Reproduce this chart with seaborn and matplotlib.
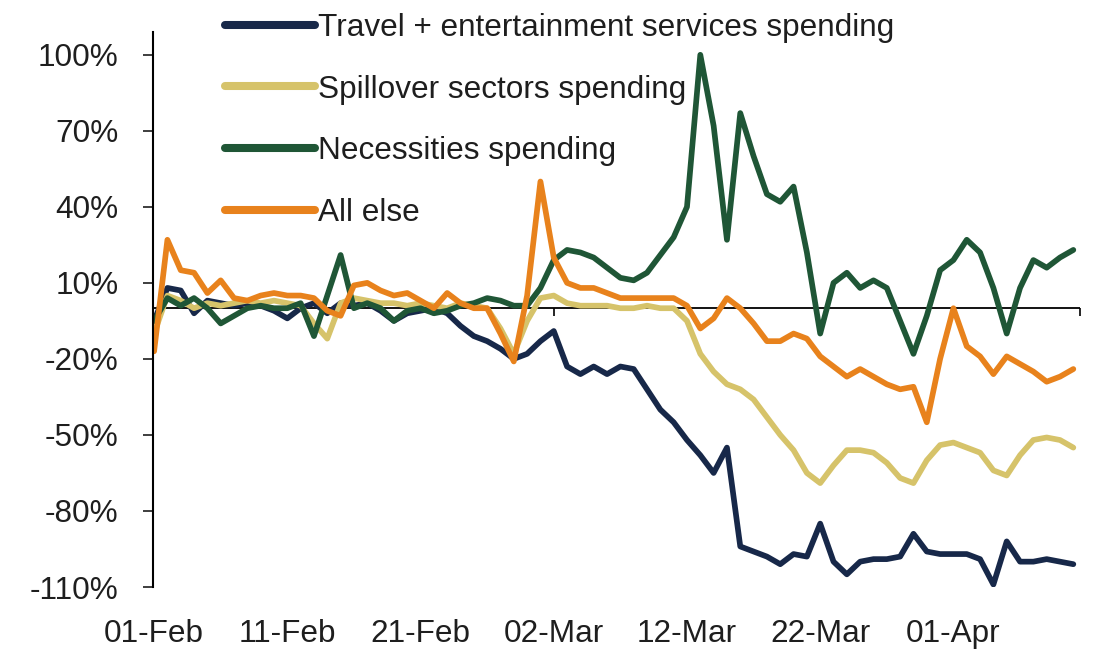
import numpy as np
import pandas as pd
import matplotlib
matplotlib.use("Agg")
import matplotlib.pyplot as plt
import seaborn as sns
from matplotlib.lines import Line2D

# ---------------- data ----------------
dates = pd.date_range("2020-02-01", periods=70, freq="D")

travel = [-5, 8, 7, -2, 3, 2, 1, 2, 1, -1,
          -4, 0, 2, -2, 2, 1, 2, -1, -5, -2,
          -1, 0, -2, -7, -11, -13, -16, -20, -18, -13,
          -9, -23, -26, -23, -26, -23, -24, -32, -40, -45,
          -52, -58, -65, -55, -94, -96, -98, -101, -97, -98,
          -85, -100, -105, -100, -99, -99, -98, -89, -96, -97,
          -97, -97, -99, -109, -92, -100, -100, -99, -100, -101]

spillover = [-10, 5, 3, 0, 2, 1, 2, 3, 2, 3,
             2, 1, -6, -12, 2, 4, 3, 2, 2, 1,
             2, 1, 0, 2, 1, 0, -8, -18, -5, 4,
             5, 2, 1, 1, 1, 0, 0, 1, 0, 0,
             -5, -18, -25, -30, -32, -36, -43, -50, -56, -65,
             -69, -62, -56, -56, -57, -61, -67, -69, -60, -54,
             -53, -55, -57, -64, -66, -58, -52, -51, -52, -55]

necessities = [-5, 4, 1, 4, 0, -6, -3, 0, 1, 0,
               0, 2, -11, 5, 21, 0, 2, 0, -5, -1,
               0, -2, -1, 1, 2, 4, 3, 1, 1, 8,
               19, 23, 22, 20, 16, 12, 11, 14, 21, 28,
               40, 100, 72, 27, 77, 60, 45, 42, 48, 22,
               -10, 10, 14, 8, 11, 8, -5, -18, -3, 15,
               19, 27, 22, 8, -10, 8, 19, 16, 20, 23]

all_else = [-17, 27, 15, 14, 6, 11, 4, 3, 5, 6,
            5, 5, 4, -1, -3, 9, 10, 7, 5, 6,
            3, 0, 6, 2, 0, 0, -10, -21, 5, 50,
            20, 10, 8, 8, 6, 4, 4, 4, 4, 4,
            1, -8, -4, 4, 0, -6, -13, -13, -10, -12,
            -19, -23, -27, -24, -27, -30, -32, -31, -45, -20,
            0, -15, -19, -26, -19, -22, -25, -29, -27, -24]

series_names = ["Travel + entertainment services spending",
                "Spillover sectors spending",
                "Necessities spending",
                "All else"]
series_values = [travel, spillover, necessities, all_else]
series_colors = ["#172849", "#d6c36a", "#1f5636", "#e8821c"]

y_ticks = [100, 70, 40, 10, -20, -50, -80, -110]
y_tick_labels = ["100%", "70%", "40%", "10%", "-20%", "-50%", "-80%", "-110%"]
x_tick_dates = ["2020-02-01", "2020-02-11", "2020-02-21", "2020-03-02",
                "2020-03-12", "2020-03-22", "2020-04-01"]
x_tick_labels = ["01-Feb", "11-Feb", "21-Feb", "02-Mar", "12-Mar", "22-Mar", "01-Apr"]
zero_line_ticks = ["2020-03-02T00:00", "2020-04-01T00:00", "2020-04-10T12:00"]

# ---------------- frame ----------------
df = pd.concat([pd.DataFrame({"date": dates, "value": v, "series": n})
                for n, v in zip(series_names, series_values)], ignore_index=True)

sns.set_theme(style="white")
plt.rcParams["font.family"] = ["Liberation Sans", "DejaVu Sans"]
text_color = "#1e1e1e"
fs = 22.7

fig = plt.figure(figsize=(10.99, 6.58), dpi=100)
ax = fig.add_axes([0.1392, 0.1079, 0.8435, 0.8435])

palette = dict(zip(series_names, series_colors))
sns.lineplot(data=df, x="date", y="value", hue="series", hue_order=series_names,
             palette=palette, linewidth=4.1, ax=ax, legend=False)

ax.set_ylim(-110, 109)
ax.set_xlim(pd.Timestamp("2020-02-01") - pd.Timedelta(hours=2), pd.Timestamp("2020-04-10 12:00"))

# zero line with small tick marks
ax.axhline(0, color="black", lw=1.3, zorder=1)
zt = pd.to_datetime(zero_line_ticks, format="ISO8601")
ax.plot(zt, [0] * len(zt), linestyle="none", marker=3, markersize=6,
        markeredgewidth=1.2, color="black", zorder=1)

ax.set_yticks(y_ticks)
ax.set_yticklabels(y_tick_labels)
ax.set_xticks(pd.to_datetime(x_tick_dates))
ax.set_xticklabels(x_tick_labels)
ax.tick_params(axis="y", direction="out", length=7, width=1.2, pad=18,
               labelsize=fs, colors=text_color, left=True)
ax.tick_params(axis="x", length=0, pad=23, labelsize=fs, colors=text_color)
ax.set_xlabel("")
ax.set_ylabel("")

for s in ["top", "right", "bottom"]:
    ax.spines[s].set_visible(False)
ax.spines["left"].set_color("black")
ax.spines["left"].set_linewidth(1.5)
ax.grid(False)

handles = [Line2D([], [], color=c, lw=5.8) for c in series_colors]
leg = fig.legend(handles, series_names, loc="upper left",
                 bbox_to_anchor=(225 / 1099, 1 - 13 / 658),
                 frameon=False, fontsize=fs, handlelength=2.85,
                 handletextpad=0.1, labelspacing=1.0,
                 borderpad=0, borderaxespad=0)
for t in leg.get_texts():
    t.set_color(text_color)

fig.savefig("out.png", dpi=100)
